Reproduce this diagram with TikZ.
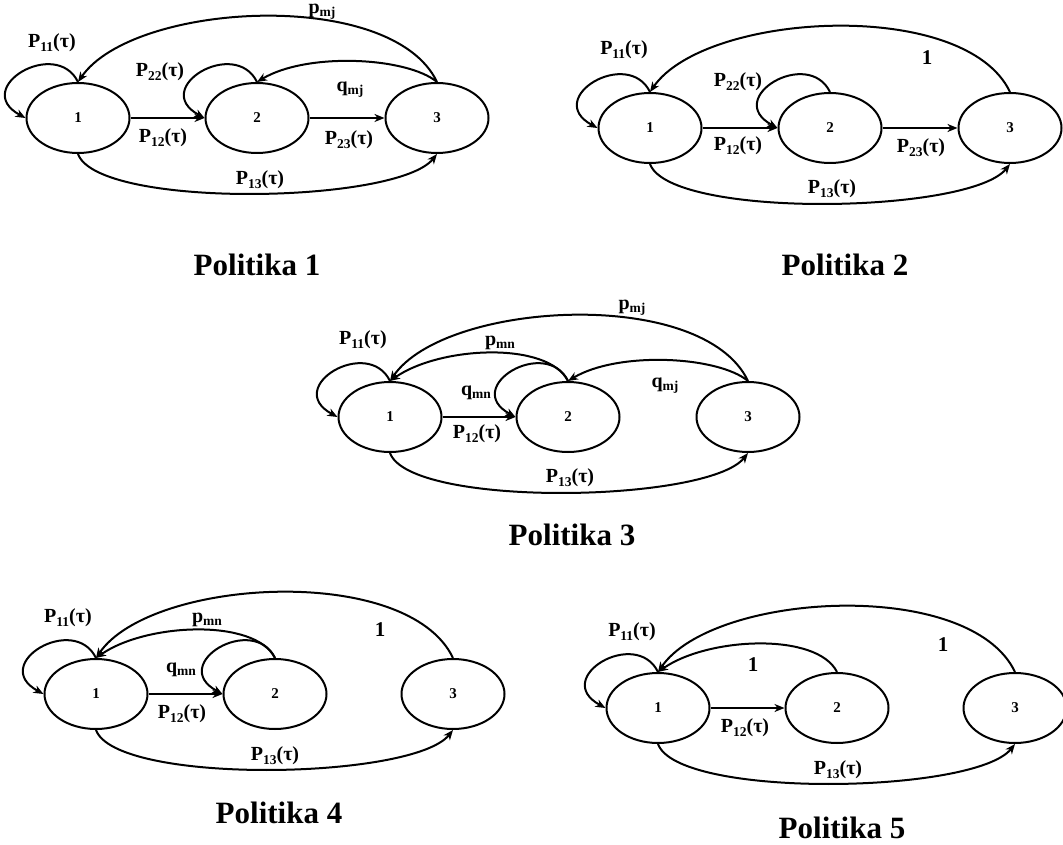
\documentclass[tikz,border=0pt]{standalone}
\usepackage{fontspec}
\setmainfont{Liberation Serif}
\usetikzlibrary{arrows.meta,shapes.geometric}

% transition label: letter with a lowered subscript
\newcommand{\lsub}[2]{#1\raisebox{-0.35ex}{\fontsize{13.5}{14}\selectfont\bfseries #2}}
\newcommand{\Ptau}[1]{\lsub{P}{#1}(τ)}

\tikzset{
  st/.style={draw, ellipse, line width=2pt, minimum width=103pt, minimum height=70pt,
             inner sep=0pt, font=\fontsize{15}{15}\selectfont\bfseries},
  tr/.style={line width=2pt, -{Stealth[length=10pt,width=8pt,inset=3pt]}},
  selfloop/.style={tr, to path={.. controls +(-22,-45) and +(-55,-30) .. (\tikztotarget)}},
  lbl/.style={font=\fontsize{20}{22}\selectfont\bfseries, inner sep=0pt},
  one/.style={font=\fontsize{21}{22}\selectfont\bfseries, inner sep=0pt},
  ttl/.style={font=\fontsize{31}{36}\selectfont\bfseries, inner sep=0pt},
}

\begin{document}
\begin{tikzpicture}[x=1pt,y=-1pt]
\useasboundingbox (0,0) rectangle (1063,845);

% ---------------- Politika 1 ----------------
\node[st] (a1) at (78,118) {1};
\node[st] (a2) at (257,118) {2};
\node[st] (a3) at (437,118) {3};
\draw[selfloop] (a1.north) to (a1.west);
\draw[selfloop] (a2.north) to (a2.west);
\draw[tr] (a1.east) -- (a2.west);
\draw[tr] (a2.east) -- (a3.west);
\draw[tr] (a3.north) .. controls +(-45,-95) and +(55,-80) .. (a1.north);
\draw[tr] (a3.north) .. controls +(-30,-25) and +(50,-30) .. (a2.north);
\draw[tr] (a1.south) .. controls +(20,55) and +(-40,50) .. (a3.south);
\node[lbl] (a11) at (52,43) {\Ptau{11}};
\node[lbl] (a22) at (160,72) {\Ptau{22}};
\node[lbl] (a12) at (163,138) {\Ptau{12}};
\node[lbl] (a23) at (349,140) {\Ptau{23}};
\node[lbl] (a13) at (260,180) {\Ptau{13}};
\node[lbl] (apmj) at (322,12) {\lsub{p}{mj}};
\node[lbl] (aqmj) at (350,90) {\lsub{q}{mj}};
\node[ttl] (t1) at (257,265) {Politika 1};

% ---------------- Politika 2 ----------------
\node[st] (b1) at (650,128) {1};
\node[st] (b2) at (830,128) {2};
\node[st] (b3) at (1010,128) {3};
\draw[selfloop] (b1.north) to (b1.west);
\draw[selfloop] (b2.north) to (b2.west);
\draw[tr] (b1.east) -- (b2.west);
\draw[tr] (b2.east) -- (b3.west);
\draw[tr] (b3.north) .. controls +(-45,-95) and +(55,-80) .. (b1.north);
\draw[tr] (b1.south) .. controls +(20,55) and +(-40,50) .. (b3.south);
\node[lbl] (b11) at (624,50) {\Ptau{11}};
\node[lbl] (b22) at (738,82) {\Ptau{22}};
\node[lbl] (b12) at (738,146) {\Ptau{12}};
\node[lbl] (b23) at (921,148) {\Ptau{23}};
\node[lbl] (b13) at (832,189) {\Ptau{13}};
\node[one] (b31) at (927,58) {1};
\node[ttl] (t2) at (845,265) {Politika 2};

% ---------------- Politika 3 ----------------
\node[st] (c1) at (390,417) {1};
\node[st] (c2) at (568,417) {2};
\node[st] (c3) at (748,417) {3};
\draw[selfloop] (c1.north) to (c1.west);
\draw[selfloop] (c2.north) to (c2.west);
\draw[tr] (c1.east) -- (c2.west);
\draw[tr] (c3.north) .. controls +(-45,-95) and +(55,-80) .. (c1.north);
\draw[tr] (c2.north) .. controls +(-20,-40) and +(50,-35) .. (c1.north);
\draw[tr] (c3.north) .. controls +(-30,-25) and +(50,-30) .. (c2.north);
\draw[tr] (c1.south) .. controls +(20,55) and +(-40,50) .. (c3.south);
\node[lbl] (c11) at (363,340) {\Ptau{11}};
\node[lbl] (c12) at (477,434) {\Ptau{12}};
\node[lbl] (c13) at (570,478) {\Ptau{13}};
\node[lbl] (cpmj) at (632,308) {\lsub{p}{mj}};
\node[lbl] (cpmn) at (500,343) {\lsub{p}{mn}};
\node[lbl] (cqmn) at (476,393) {\lsub{q}{mn}};
\node[lbl] (cqmj) at (665,386) {\lsub{q}{mj}};
\node[ttl] (t3) at (572,535) {Politika 3};

% ---------------- Politika 4 ----------------
\node[st] (d1) at (96,694) {1};
\node[st] (d2) at (275,694) {2};
\node[st] (d3) at (453,694) {3};
\draw[selfloop] (d1.north) to (d1.west);
\draw[selfloop] (d2.north) to (d2.west);
\draw[tr] (d1.east) -- (d2.west);
\draw[tr] (d3.north) .. controls +(-45,-95) and +(55,-80) .. (d1.north);
\draw[tr] (d2.north) .. controls +(-20,-40) and +(50,-35) .. (d1.north);
\draw[tr] (d1.south) .. controls +(20,55) and +(-40,50) .. (d3.south);
\node[lbl] (d11) at (68,618) {\Ptau{11}};
\node[lbl] (d12) at (182,714) {\Ptau{12}};
\node[lbl] (d13) at (275,756) {\Ptau{13}};
\node[lbl] (dpmn) at (207,620) {\lsub{p}{mn}};
\node[lbl] (dqmn) at (181,670) {\lsub{q}{mn}};
\node[one] (d31) at (380,630) {1};
\node[ttl] (t4) at (279,813) {Politika 4};

% ---------------- Politika 5 ----------------
\node[st] (e1) at (658,708) {1};
\node[st] (e2) at (837,708) {2};
\node[st] (e3) at (1015,708) {3};
\draw[selfloop] (e1.north) to (e1.west);
\draw[tr] (e1.east) -- (e2.west);
\draw[tr] (e3.north) .. controls +(-45,-95) and +(55,-80) .. (e1.north);
\draw[tr] (e2.north) .. controls +(-20,-40) and +(50,-35) .. (e1.north);
\draw[tr] (e1.south) .. controls +(20,55) and +(-40,50) .. (e3.south);
\node[lbl] (e11) at (632,632) {\Ptau{11}};
\node[lbl] (e12) at (745,728) {\Ptau{12}};
\node[lbl] (e13) at (838,770) {\Ptau{13}};
\node[one] (e21) at (753,665) {1};
\node[one] (e31) at (943,645) {1};
\node[ttl] (t5) at (842,828) {Politika 5};
\end{tikzpicture}
\end{document}
